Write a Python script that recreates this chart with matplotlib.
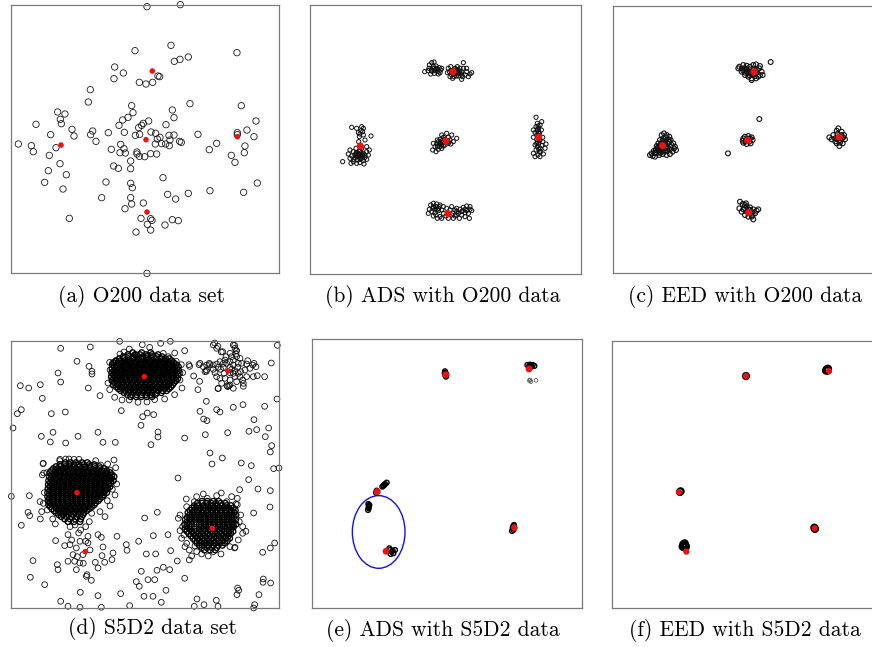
"""Six scatter panels: raw O200 / S5D2 data and the ADS / EED results on them.

Coordinates are in each panel's own units (read off the scan, y grows down).
"""
import numpy as np
import matplotlib
matplotlib.use("Agg")
import matplotlib.pyplot as plt
from matplotlib.patches import Ellipse

# ---------------------------------------------------------------- panel (a)
A_POINTS = [
    (441, 20), (541, 14), (513, 136), (405, 152), (711, 158), (523, 184), (540, 178),
    (565, 171), (344, 201), (342, 236), (370, 219), (474, 228), (479, 230), (418, 247),
    (438, 252), (458, 247), (271, 269), (265, 306), (570, 311), (724, 317), (395, 317),
    (173, 336), (195, 342), (181, 358), (184, 371), (108, 373), (517, 330), (522, 353),
    (399, 338), (384, 352), (368, 360), (357, 376), (430, 370), (446, 363), (425, 376),
    (416, 383), (498, 374), (768, 363), (216, 388), (222, 408), (278, 393), (272, 404),
    (288, 424), (325, 398), (373, 397), (152, 404), (453, 396), (467, 400), (480, 412),
    (472, 417), (466, 432), (485, 431), (497, 432), (507, 406), (522, 405), (510, 420),
    (508, 437), (539, 424), (544, 427), (594, 403), (406, 406), (419, 403), (712, 398),
    (712, 404), (741, 390), (762, 410), (55, 432), (94, 437), (100, 455), (168, 443),
    (362, 433), (334, 448), (372, 446), (376, 459), (360, 458), (411, 456), (411, 462),
    (418, 469), (434, 470), (452, 461), (470, 462), (628, 449), (650, 430), (735, 438),
    (733, 458), (694, 466), (705, 487), (148, 466), (180, 491), (392, 483), (341, 498),
    (355, 505), (392, 506), (145, 512), (199, 524), (134, 547), (189, 567), (318, 546),
    (489, 533), (392, 550), (397, 563), (772, 549), (565, 580), (503, 583), (527, 597),
    (630, 572), (731, 577), (305, 593), (392, 593), (395, 612), (375, 626), (430, 609),
    (423, 655), (452, 656), (456, 661), (442, 673), (452, 690), (408, 696), (517, 659),
    (535, 662), (495, 675), (208, 655), (441, 820),
]
A_CENTERS = [(457, 213), (183, 435), (438, 419), (712, 410), (441, 636)]

# ---------------------------------------------------------------- panel (b)
B_POINTS = [
    # top group
    (395, 188), (402, 186), (388, 195), (400, 200), (410, 205), (418, 203), (374, 215),
    (384, 212), (394, 210), (405, 212), (413, 215), (422, 210), (392, 222), (403, 220),
    (415, 222), (398, 205), (408, 198), (420, 218), (387, 205), (425, 205), (445, 205),
    (452, 200), (448, 215), (455, 225), (460, 210), (465, 205), (470, 215), (475, 210),
    (480, 220), (485, 215), (490, 205), (490, 188), (500, 215), (510, 222), (515, 218),
    (505, 230), (485, 238), (470, 228), (462, 230), (475, 222), (455, 215), (495, 225),
    (480, 205), (466, 220), (458, 235), (442, 218), (500, 205), (488, 230), (472, 200),
    (450, 230), (460, 215), (468, 218), (478, 215), (485, 222), (470, 208), (462, 222),
    (476, 228), (404, 205), (396, 214), (411, 209),
    # left group
    (155, 382), (170, 385), (185, 380), (190, 385), (175, 398), (188, 395), (190, 405),
    (178, 410), (213, 408), (195, 420), (176, 425), (168, 445), (200, 440), (185, 445),
    (150, 450), (160, 455), (170, 458), (180, 452), (190, 460), (200, 455), (205, 465),
    (145, 462), (155, 468), (165, 465), (175, 470), (185, 468), (195, 472), (150, 475),
    (162, 478), (172, 480), (180, 478), (190, 482), (200, 478), (128, 485), (153, 490),
    (180, 488), (192, 492), (170, 490), (160, 485), (208, 450), (175, 462), (165, 472),
    (185, 475), (178, 455), (172, 466), (188, 464), (175, 460), (182, 462), (170, 470),
    (178, 472), (188, 470), (168, 460), (195, 465), (183, 392), (180, 402),
    # middle group
    (440, 400), (455, 405), (470, 415), (425, 405), (430, 412), (445, 412), (450, 420),
    (460, 425), (420, 418), (415, 425), (425, 428), (435, 435), (445, 430), (410, 432),
    (420, 440), (430, 438), (405, 440), (398, 450), (408, 455), (415, 448), (425, 445),
    (400, 430), (438, 425), (452, 432), (412, 420), (418, 432), (428, 420), (430, 425),
    (420, 430), (435, 418), (445, 425), (425, 435), (412, 440),
    # right group
    (708, 352), (725, 365), (712, 370), (720, 375), (708, 380), (716, 385), (700, 390),
    (712, 392), (724, 390), (705, 398), (718, 400), (710, 405), (700, 412), (728, 412),
    (720, 420), (712, 425), (716, 432), (705, 435), (725, 436), (738, 432), (712, 440),
    (720, 445), (708, 450), (700, 460), (718, 455), (730, 462), (714, 465), (720, 470),
    (705, 470), (728, 425), (735, 445), (714, 378), (716, 395), (710, 418), (716, 400),
    (714, 410), (718, 415), (712, 388), (710, 430), (716, 448), (722, 455),
    # bottom group
    (392, 615), (400, 610), (410, 612), (420, 615), (430, 620), (388, 628), (398, 625),
    (408, 620), (416, 625), (425, 630), (395, 635), (405, 638), (415, 632), (408, 645),
    (420, 650), (430, 640), (400, 648), (412, 655), (440, 625), (450, 630), (455, 620),
    (465, 630), (470, 625), (480, 628), (490, 622), (500, 618), (510, 620), (515, 632),
    (505, 640), (495, 638), (485, 645), (475, 640), (465, 648), (455, 645), (478, 655),
    (495, 650), (508, 655), (445, 655), (438, 648), (460, 655), (385, 640), (425, 655),
    (412, 628), (470, 635), (488, 632), (400, 620), (405, 628), (418, 620), (485, 635),
    (495, 628), (500, 632), (510, 628), (470, 645), (458, 640),
]
B_CENTERS = [(459, 215), (181, 438), (438, 423), (716, 412), (444, 641)]

# ---------------------------------------------------------------- panel (c)
C_POINTS = [
    # top
    (478, 200), (490, 195), (500, 197), (510, 200), (520, 195), (528, 193), (538, 205),
    (545, 215), (540, 225), (535, 230), (525, 228), (515, 235), (505, 230), (495, 225),
    (485, 215), (475, 205), (500, 210), (510, 215), (495, 205), (530, 210), (518, 222),
    (505, 220), (548, 225), (486, 205), (540, 198), (528, 235), (515, 240), (572, 186),
    (490, 212), (522, 208), (508, 226), (500, 215), (512, 218), (520, 215), (528, 220),
    (508, 208), (495, 218),
    # left
    (210, 465), (218, 468), (225, 458), (232, 445), (235, 430), (240, 420), (245, 405),
    (252, 400), (260, 405), (268, 410), (272, 420), (280, 430), (285, 440), (288, 450),
    (278, 455), (270, 462), (260, 465), (248, 462), (238, 465), (228, 460), (240, 450),
    (250, 445), (260, 440), (265, 430), (255, 425), (245, 430), (235, 440), (222, 452),
    (215, 460), (262, 452), (272, 440), (250, 415), (230, 438), (242, 458), (255, 455),
    (268, 425), (282, 445), (225, 470), (244, 440), (256, 432), (236, 452), (240, 435),
    (250, 430), (258, 445), (245, 448), (235, 448), (252, 438), (262, 446), (248, 452),
    (238, 458), (228, 450), (270, 448), (275, 435), (266, 418), (258, 412), (248, 422),
    # strays
    (538, 357), (444, 460),
    # middle
    (490, 415), (495, 410), (505, 408), (515, 412), (518, 420), (512, 430), (500, 432),
    (490, 428), (488, 422), (500, 418), (508, 425), (496, 425), (510, 415), (502, 420),
    (498, 422), (506, 418),
    # right
    (760, 405), (770, 392), (775, 385), (785, 395), (792, 405), (795, 418), (788, 430),
    (778, 438), (770, 430), (755, 418), (765, 415), (782, 422), (772, 402), (748, 412),
    (790, 412), (778, 410), (772, 418), (784, 405), (780, 428), (766, 424), (786, 416),
    # bottom
    (480, 605), (488, 612), (495, 615), (500, 620), (510, 622), (520, 628), (530, 632),
    (535, 628), (525, 640), (515, 650), (520, 658), (505, 650), (495, 645), (485, 635),
    (478, 625), (490, 628), (500, 635), (512, 640), (498, 610), (518, 645), (505, 628),
    (495, 625), (505, 635), (510, 630), (515, 635),
]
C_CENTERS = [(522, 215), (248, 437), (503, 421), (778, 411), (507, 637)]

# ---------------------------------------------------------------- panel (d)
D_SCATTER = [
    (182, 55), (271, 51), (359, 34), (388, 57), (427, 44), (449, 52), (482, 40), (511, 34),
    (554, 62), (524, 69), (644, 39), (654, 49), (664, 66), (704, 46), (709, 62), (832, 46),
    (231, 94), (267, 109), (276, 124), (276, 132), (174, 129), (182, 156), (61, 167),
    (86, 174), (121, 164), (127, 205), (265, 174), (300, 197), (64, 239), (52, 251),
    (39, 294), (154, 251), (196, 246), (124, 319), (159, 307), (151, 336), (197, 339),
    (234, 319), (294, 307), (309, 337), (346, 337), (364, 242), (428, 260), (442, 249),
    (461, 254), (423, 286), (474, 306), (474, 321), (453, 344), (554, 324), (600, 244),
    (619, 214), (611, 267), (621, 272), (650, 239), (660, 246), (700, 232), (729, 224),
    (762, 269), (794, 229), (831, 207), (616, 314), (683, 308), (747, 304), (770, 299),
    (806, 294), (796, 320), (815, 347), (811, 366), (630, 369), (667, 384), (636, 402),
    (724, 399), (754, 407), (821, 416), (837, 414), (594, 179), (599, 154), (581, 138),
    (569, 109), (597, 104), (629, 104), (654, 176), (681, 167), (687, 167), (730, 169),
    (772, 137), (794, 140), (814, 99), (743, 92), (762, 100), (619, 124), (540, 129),
    (567, 104), (129, 401), (179, 392), (131, 429), (34, 499), (88, 497), (84, 547),
    (89, 557), (64, 586), (121, 567), (166, 582), (167, 632), (99, 692), (172, 704),
    (174, 719), (91, 742), (134, 764), (182, 814), (204, 829), (240, 832), (241, 787),
    (294, 797), (304, 832), (274, 751), (261, 734), (351, 619), (339, 669), (336, 689),
    (379, 644), (381, 661), (362, 791), (389, 827), (416, 634), (439, 672), (424, 724),
    (409, 755), (418, 769), (434, 564), (472, 547), (460, 617), (467, 672), (444, 749),
    (471, 721), (490, 712), (509, 719), (464, 749), (498, 781), (459, 799), (432, 799),
    (484, 817), (512, 662), (504, 614), (534, 444), (559, 507), (532, 693), (554, 745),
    (591, 807), (612, 824), (649, 811), (713, 774), (716, 781), (711, 794), (764, 824),
    (761, 834), (777, 794), (790, 747), (789, 757), (812, 759), (788, 667), (811, 654),
    (824, 639), (761, 549), (738, 604), (810, 531), (811, 482), (774, 477), (746, 449),
    (704, 654), (712, 524), (719, 479), (664, 489), (583, 829), (654, 829),
    # small group around the lower-left centre
    (204, 614), (210, 644), (229, 654), (219, 674), (239, 699), (229, 719), (264, 639),
    (294, 614), (304, 622), (309, 651), (286, 697), (294, 714), (306, 677), (236, 609),
    (264, 619), (257, 634), (194, 647), (204, 694), (224, 694), (249, 674), (314, 697),
    (259, 739), (240, 634), (232, 680), (270, 660), (250, 700), (215, 630),
    # loose group around the top-right centre
    (640, 45), (650, 55), (668, 65), (700, 45), (705, 55), (710, 62), (708, 72), (710, 80),
    (700, 90), (690, 95), (680, 100), (670, 100), (660, 95), (650, 102), (640, 105),
    (628, 100), (620, 105), (610, 110), (600, 100), (620, 120), (640, 118), (655, 112),
    (662, 118), (670, 112), (690, 112), (700, 105), (715, 100), (725, 100), (740, 102),
    (758, 105), (768, 110), (750, 115), (735, 120), (722, 125), (715, 130), (700, 130),
    (690, 128), (705, 140), (720, 140), (740, 140), (760, 140), (690, 150), (675, 145),
    (660, 145), (665, 160), (690, 165), (710, 155), (730, 160), (683, 170), (700, 175),
    (650, 140), (645, 128), (615, 125), (675, 90), (695, 80), (720, 85), (690, 70),
    (678, 80), (713, 112), (728, 150), (655, 175), (672, 130), (695, 118), (705, 122),
    # fringes of the three dense blobs
    (324, 159), (329, 97), (338, 98), (349, 94), (409, 74), (444, 76), (529, 94),
    (544, 104), (546, 174), (524, 194), (494, 207), (464, 209), (441, 216), (414, 217),
    (388, 210), (366, 210), (344, 202), (329, 179), (360, 72), (372, 66), (490, 70),
    (505, 80), (540, 150), (548, 128), (330, 120), (335, 140),
    (130, 400), (180, 388), (197, 387), (207, 387), (222, 388), (237, 388), (287, 392),
    (302, 405), (323, 402), (342, 390), (347, 413), (330, 420), (335, 440), (350, 462),
    (337, 478), (345, 495), (322, 512), (330, 528), (300, 545), (315, 560), (275, 550),
    (268, 575), (257, 590), (242, 600), (210, 590), (225, 585), (140, 428), (127, 435),
    (120, 515), (130, 520), (125, 545), (158, 567), (205, 575), (133, 488), (142, 540),
    (540, 555), (548, 590), (552, 615), (545, 625), (560, 640), (568, 660), (575, 678),
    (590, 665), (605, 672), (625, 678), (640, 665), (663, 672), (690, 650), (705, 652),
    (715, 630), (728, 610), (718, 575), (722, 555), (708, 522), (712, 505), (695, 500),
    (680, 515), (650, 497), (622, 505), (610, 492), (590, 500), (583, 515), (560, 530),
    (535, 565), (700, 585), (728, 590), (540, 602), (568, 690), (555, 650), (585, 648),
]
# dense blobs, one row (y, x values) at a time
D_TOP_ROWS = [
    (68, [398, 425, 452]),
    (74, [384, 405, 420, 438, 456, 474]),
    (80, [370, 386, 400, 414, 428, 442, 456, 470, 486]),
    (86, [358, 371, 385, 398, 412, 426, 440, 454, 468, 482, 496, 508]),
    (92, [348, 362, 375, 389, 403, 417, 431, 445, 459, 473, 487, 501, 515]),
    (98, [342, 355, 368, 382, 396, 410, 424, 438, 452, 466, 480, 494, 508, 521]),
    (104, [337, 350, 363, 376, 390, 404, 418, 432, 446, 460, 474, 488, 502, 516, 529]),
    (110, [343, 356, 369, 383, 397, 411, 425, 439, 453, 467, 481, 495, 509, 523, 535]),
    (116, [336, 349, 362, 376, 390, 404, 418, 432, 446, 460, 474, 488, 502, 516, 530]),
    (122, [342, 355, 368, 382, 396, 410, 424, 438, 452, 466, 480, 494, 508, 522, 536]),
    (128, [335, 348, 361, 375, 389, 403, 417, 431, 445, 459, 473, 487, 501, 515, 529]),
    (134, [341, 354, 367, 381, 395, 409, 423, 437, 451, 465, 479, 493, 507, 521, 535]),
    (140, [334, 347, 360, 374, 388, 402, 416, 430, 444, 458, 472, 486, 500, 514, 528]),
    (146, [340, 353, 366, 380, 394, 408, 422, 436, 450, 464, 478, 492, 506, 520, 533]),
    (152, [336, 349, 362, 376, 390, 404, 418, 432, 446, 460, 474, 488, 502, 516, 528]),
    (158, [343, 356, 369, 383, 397, 411, 425, 439, 453, 467, 481, 495, 509, 522]),
    (164, [340, 353, 366, 380, 394, 408, 422, 436, 450, 464, 478, 492, 506, 518]),
    (170, [348, 361, 374, 388, 402, 416, 430, 444, 458, 472, 486, 500, 513]),
    (176, [355, 368, 382, 396, 410, 424, 438, 452, 466, 480, 494, 507]),
    (182, [362, 376, 390, 404, 418, 432, 446, 460, 474, 488, 500]),
    (188, [372, 386, 400, 414, 428, 442, 456, 470, 484]),
    (194, [382, 396, 410, 424, 438, 452, 466]),
    (200, [392, 408, 424, 440, 456]),
]
D_LEFT_ROWS = [
    (398, [196, 212, 228, 246, 262]),
    (404, [180, 194, 208, 222, 237, 252, 268, 283]),
    (410, [168, 182, 196, 210, 224, 239, 254, 269, 284, 298]),
    (416, [160, 173, 187, 201, 215, 229, 243, 257, 271, 285, 299, 312]),
    (422, [154, 167, 181, 195, 209, 223, 237, 251, 265, 279, 293, 307, 320]),
    (428, [150, 162, 176, 190, 204, 218, 232, 246, 260, 274, 288, 302, 316, 330]),
    (434, [155, 168, 182, 196, 210, 224, 238, 252, 266, 280, 294, 308, 322, 336]),
    (440, [148, 161, 175, 189, 203, 217, 231, 245, 259, 273, 287, 301, 315, 329, 342]),
    (446, [153, 166, 180, 194, 208, 222, 236, 250, 264, 278, 292, 306, 320, 334]),
    (452, [146, 159, 173, 187, 201, 215, 229, 243, 257, 271, 285, 299, 313, 327, 340]),
    (458, [151, 164, 178, 192, 206, 220, 234, 248, 262, 276, 290, 304, 318, 332]),
    (464, [145, 158, 172, 186, 200, 214, 228, 242, 256, 270, 284, 298, 312, 326]),
    (470, [150, 163, 177, 191, 205, 219, 233, 247, 261, 275, 289, 303, 317, 330]),
    (476, [144, 157, 171, 185, 199, 213, 227, 241, 255, 269, 283, 297, 311, 323]),
    (482, [149, 162, 176, 190, 204, 218, 232, 246, 260, 274, 288, 302, 315]),
    (488, [143, 156, 170, 184, 198, 212, 226, 240, 254, 268, 282, 296, 309, 320]),
    (494, [148, 161, 175, 189, 203, 217, 231, 245, 259, 273, 287, 300, 312]),
    (500, [143, 156, 170, 184, 198, 212, 226, 240, 254, 268, 282, 295, 307]),
    (506, [148, 161, 175, 189, 203, 217, 231, 245, 259, 273, 287, 300]),
    (512, [144, 157, 171, 185, 199, 213, 227, 241, 255, 269, 283, 295]),
    (518, [149, 162, 176, 190, 204, 218, 232, 246, 260, 274, 287]),
    (524, [146, 159, 173, 187, 201, 215, 229, 243, 257, 271, 283]),
    (530, [151, 165, 179, 193, 207, 221, 235, 249, 263, 276]),
    (536, [156, 170, 184, 198, 212, 226, 240, 254, 268]),
    (542, [162, 176, 190, 204, 218, 232, 246, 260]),
    (548, [168, 182, 196, 210, 224, 238, 252]),
    (554, [176, 190, 205, 220, 235, 249]),
    (560, [184, 200, 215, 230, 245]),
    (567, [194, 210, 226, 242]),
    (575, [204, 222, 240]),
]
D_RIGHT_ROWS = [
    (514, [606, 622, 640, 656]),
    (520, [592, 606, 620, 634, 648, 662, 676]),
    (527, [583, 596, 610, 624, 638, 652, 666, 680, 693]),
    (534, [576, 589, 603, 617, 631, 645, 659, 673, 687, 700]),
    (541, [570, 583, 596, 610, 624, 638, 652, 666, 680, 694, 706]),
    (548, [564, 577, 591, 605, 619, 633, 647, 661, 675, 689, 702]),
    (555, [569, 583, 597, 611, 625, 639, 653, 667, 681, 695, 708]),
    (562, [562, 575, 589, 603, 617, 631, 645, 659, 673, 687, 701]),
    (569, [556, 569, 583, 597, 611, 625, 639, 653, 667, 681, 695, 707]),
    (576, [561, 575, 589, 603, 617, 631, 645, 659, 673, 687, 700]),
    (583, [554, 568, 598, 612, 626, 640, 654, 668, 682, 696, 708]),
    (590, [560, 574, 604, 618, 632, 646, 660, 674, 688, 701]),
    (597, [555, 569, 583, 597, 611, 625, 639, 653, 667, 681, 694]),
    (604, [561, 575, 589, 603, 617, 631, 645, 659, 673, 687, 699]),
    (611, [567, 581, 595, 609, 623, 637, 651, 665, 679, 692]),
    (618, [573, 587, 601, 615, 629, 643, 657, 671, 685]),
    (625, [579, 593, 607, 621, 635, 649, 663, 677, 689]),
    (632, [585, 599, 613, 627, 641, 655, 669, 682]),
    (639, [591, 605, 619, 633, 647, 661, 674]),
    (646, [598, 612, 626, 640, 654, 667]),
    (653, [606, 621, 636, 650]),
    (660, [613, 630, 646]),
]
D_CENTERS = [(433, 140), (684, 123), (231, 488), (256, 665), (637, 595)]

# ---------------------------------------------------------------- panel (e)
E_POINTS = [
    (435, 124), (436, 128), (437, 132), (436, 136), (438, 140), (434, 130), (439, 134),
    (682, 105), (690, 104), (698, 105), (703, 108), (695, 110), (686, 110), (692, 107),
    (250, 467), (255, 462), (260, 458), (247, 470), (253, 465),
    (230, 482), (228, 488),
    (205, 522), (207, 528), (206, 535), (204, 540), (208, 525), (206, 531),
    (270, 660), (275, 665), (280, 670), (285, 660), (272, 672), (268, 655), (278, 662),
    (640, 588), (638, 595), (636, 603), (640, 600), (642, 585), (639, 592),
]
E_STRAYS = [(690, 150), (693, 155), (708, 151), (688, 152)]
E_CENTERS = [(437, 134), (687, 117), (232, 485), (258, 664), (643, 593)]
E_ELLIPSE = ((236, 606), 158, 218)   # centre, width, height

# ---------------------------------------------------------------- panel (f)
F_POINTS = [
    (498, 138),
    (740, 118), (743, 122), (738, 122), (744, 116), (741, 120),
    (302, 484), (300, 486),
    (703, 593), (705, 597),
    (310, 643), (316, 645), (312, 652), (318, 650), (308, 650), (314, 640), (313, 647),
]
F_CENTERS = [(498, 138), (747, 123), (297, 486), (704, 595), (319, 665)]

CAPTIONS = ["(a) O200 data set", "(b) ADS with O200 data", "(c) EED with O200 data",
            "(d) S5D2 data set", "(e) ADS with S5D2 data", "(f) EED with S5D2 data"]

W, H = 872, 647
# frame in figure pixels (left, top, right, bottom) and panel limits (x0, x1, y0, y1)
FRAMES = [
    ((11, 5, 279.3, 272.7), (33, 838, 15, 818)),
    ((310, 5, 580.7, 274.3), (30, 842, 15, 823)),
    ((613.3, 5.7, 883, 272.7), (100, 909, 17, 818)),
    ((11, 341, 279.3, 608.3), (33, 838, 33, 835)),
    ((312, 339.3, 581.7, 608.3), (36, 845, 28, 835)),
    ((612.3, 341, 882, 608.3), (97, 906, 33, 835)),
]
CAPTION_POS = [(141, 296), (443, 297), (745, 297), (152, 629), (443, 631), (745, 631)]

RED = "#ee1111"


def _rows(rows):
    return [(x, y) for y, xs in rows for x in xs]


def _panel(fig, frame, lims):
    l, t, r, b = frame
    ax = fig.add_axes([l / W, 1 - b / H, (r - l) / W, (b - t) / H])
    ax.set_xlim(lims[0], lims[1])
    ax.set_ylim(lims[3], lims[2])
    ax.set_xticks([])
    ax.set_yticks([])
    for s in ax.spines.values():
        s.set_color("#7a7a7a")
        s.set_linewidth(0.9)
    return ax


def _open(ax, pts, s, lw=0.6, ec="#1a1a1a"):
    p = np.asarray(pts, dtype=float)
    ax.scatter(p[:, 0], p[:, 1], s=s, facecolors="none", edgecolors=ec,
               linewidths=lw, clip_on=False, zorder=2)


def _red(ax, pts, s, ec="none"):
    p = np.asarray(pts, dtype=float)
    ax.scatter(p[:, 0], p[:, 1], s=s, color=RED, edgecolors=ec, linewidths=0.8,
               clip_on=False, zorder=3)


fig = plt.figure(figsize=(W / 100, H / 100), dpi=100)
axes = [_panel(fig, f, lim) for f, lim in FRAMES]

_open(axes[0], A_POINTS, 21)
_red(axes[0], A_CENTERS, 16)

_open(axes[1], B_POINTS, 9, lw=0.7, ec="#111111")
_red(axes[1], B_CENTERS, 26)

_open(axes[2], C_POINTS, 12, lw=0.8, ec="#111111")
_red(axes[2], C_CENTERS, 26)

_open(axes[3], D_SCATTER, 17, lw=0.6, ec="#111111")
blobs = _rows(D_TOP_ROWS) + _rows(D_LEFT_ROWS) + _rows(D_RIGHT_ROWS)
_open(axes[3], blobs, 17, lw=0.95, ec="#000000")
_red(axes[3], D_CENTERS, 16)

_open(axes[4], E_POINTS, 12, lw=1.0, ec="black")
_open(axes[4], E_STRAYS, 7, lw=0.5, ec="#444444")
(cx, cy), ew, eh = E_ELLIPSE
axes[4].add_patch(Ellipse((cx, cy), ew, eh, fill=False, ec="#1010ee", lw=1.0, zorder=1))
_red(axes[4], E_CENTERS, 24)

_open(axes[5], F_POINTS, 22, lw=1.2, ec="black")
_red(axes[5], F_CENTERS, 20)

for text, (x, y) in zip(CAPTIONS, CAPTION_POS):
    fig.text(x / W, 1 - y / H, text, ha="center", va="center",
             family="cmr10", fontsize=15.5)

fig.savefig("out.png", dpi=100)
